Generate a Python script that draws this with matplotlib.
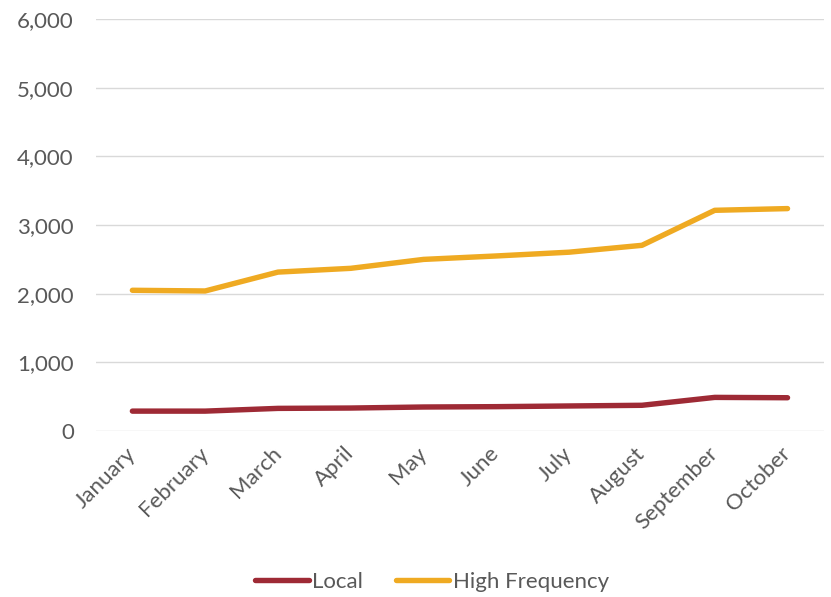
import matplotlib.pyplot as plt
from matplotlib.ticker import FuncFormatter

# monthly counts per channel
months = ['January', 'February', 'March', 'April', 'May', 'June',
          'July', 'August', 'September', 'October']
local = [290, 290, 330, 335, 350, 355, 365, 375, 490, 485]
high_frequency = [2050, 2040, 2315, 2370, 2500, 2550, 2605, 2705, 3215, 3240]

plt.rcParams['font.family'] = ['Lato', 'DejaVu Sans']

fig = plt.figure(figsize=(8.31, 5.97), dpi=100)
ax = fig.add_axes([0.1155, 0.278, 0.876, 0.69])

x = range(len(months))
ax.plot(x, local, color='#9E2A35', linewidth=3.9, label='Local',
        solid_capstyle='round', solid_joinstyle='round', zorder=3)
ax.plot(x, high_frequency, color='#EFAA22', linewidth=3.9,
        label='High Frequency', solid_capstyle='round',
        solid_joinstyle='round', zorder=3)

ax.set_xlim(-0.5, len(months) - 0.5)
ax.set_ylim(0, 6000)
ax.set_yticks(range(0, 6001, 1000))
ax.yaxis.set_major_formatter(FuncFormatter(lambda v, p: f'{int(v):,}'))
ax.set_xticks(list(x))
ax.set_xticklabels(months, rotation=45, ha='right', va='center',
                   rotation_mode='anchor')

ax.grid(axis='y', color='#D9D9D9', linewidth=1.0)
ax.set_axisbelow(True)
for side in ['top', 'right', 'left', 'bottom']:
    ax.spines[side].set_visible(False)
ax.tick_params(axis='both', length=0, labelsize=16, labelcolor='#595959')
ax.tick_params(axis='y', pad=16)
ax.tick_params(axis='x', pad=14)

fig.legend(loc='center', bbox_to_anchor=(0.52, 0.025), ncol=2,
           frameon=False, fontsize=16, labelcolor='#595959',
           handlelength=2.4, handletextpad=0.15, columnspacing=1.5)

fig.savefig('out.png', dpi=100)
plt.close()
